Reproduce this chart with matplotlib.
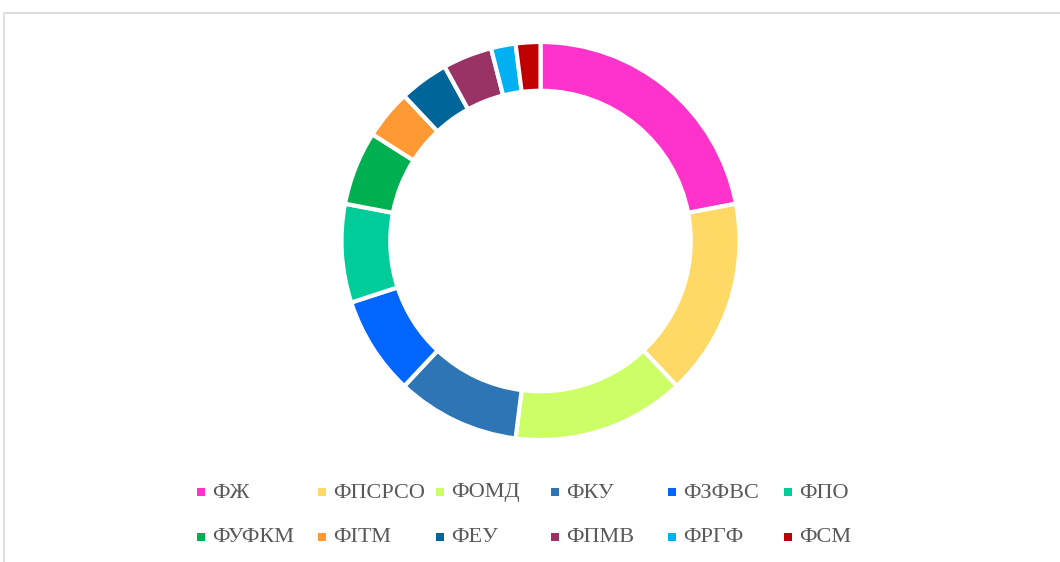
import matplotlib.pyplot as plt
from matplotlib.patches import Rectangle

# Дані діаграми
faculties = ['ФЖ', 'ФПСРСО', 'ФОМД', 'ФКУ', 'ФЗФВС', 'ФПО',
             'ФУФКМ', 'ФІТМ', 'ФЕУ', 'ФПМВ', 'ФРГФ', 'ФСМ']
counts = [11, 8, 7, 5, 4, 4, 3, 2, 2, 2, 1, 1]
colors = ['#FF33CC', '#FFD966', '#CCFF66', '#2E75B6', '#0066FF', '#00CC99',
          '#00B050', '#FF9933', '#006699', '#993366', '#00B0F0', '#C00000']

W, H = 1060, 562
fig = plt.figure(figsize=(W / 100, H / 100), dpi=100)

# рамка області діаграми
fig.patches.append(Rectangle((3.5 / W, -0.1), 1.2, (H - 12.5) / H + 0.1,
                             transform=fig.transFigure, fill=False,
                             edgecolor='#D9D9D9', linewidth=1.2))

# кільцева діаграма
cx, cy, r = 540.5, 241, 199
ax = fig.add_axes([(cx - r) / W, (H - cy - r) / H, 2 * r / W, 2 * r / H])
ax.pie(counts, colors=colors, startangle=90, counterclock=False, radius=1,
       wedgeprops=dict(width=0.245, edgecolor='white', linewidth=3))
ax.set_xlim(-1, 1)
ax.set_ylim(-1, 1)
ax.set_aspect('equal')
ax.axis('off')

# легенда (6 колонок, 2 рядки)
col_x = [201, 322, 440, 555, 672, 788]
row_y = [492, 537]
for i, (name, c) in enumerate(zip(faculties, colors)):
    x = col_x[i % 6]
    y = row_y[i // 6]
    fig.patches.append(Rectangle(((x - 4) / W, (H - y - 4) / H), 8 / W, 8 / H,
                                 transform=fig.transFigure, facecolor=c,
                                 edgecolor='none'))
    fig.text((x + 11) / W, (H - y - 1) / H, name, fontsize=16,
             family='Liberation Serif', color='#595959', va='center', ha='left')

fig.savefig('out.png', dpi=100)
